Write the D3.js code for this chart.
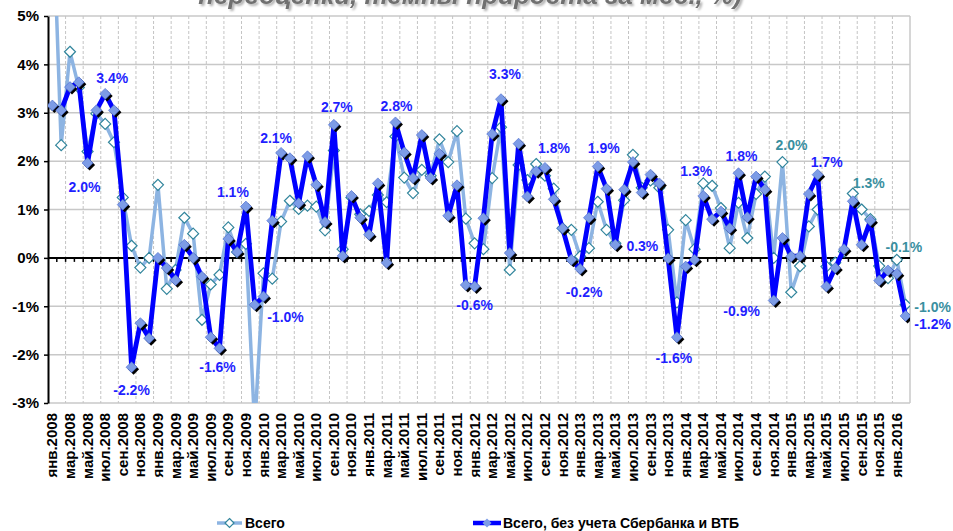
<!DOCTYPE html>
<html>
<head>
<meta charset="utf-8">
<script src="https://cdn.jsdelivr.net/npm/d3@7"></script>
<style>
  body { margin: 0; background: #fff; }
  svg { display: block; font-family: "Liberation Sans", Arial, sans-serif; }
</style>
</head>
<body>
<div id="chart"></div>
<script>
// ---- data ----
const monthNames = ['янв', 'фев', 'мар', 'апр', 'май', 'июн', 'июл', 'авг', 'сен', 'окт', 'ноя', 'дек'];
const years = [2008, 2009, 2010, 2011, 2012, 2013, 2014, 2015, 2016];
const months = [];
years.forEach(y => monthNames.forEach(m => months.push(m + '.' + y)));
months.length = 98; // янв.2008 .. фев.2016

// Всего
const total = [
  7.5, 2.33, 4.26, 3.52, 2.20, 2.98, 2.77, 2.39, 1.25, 0.25, -0.20, 0.00,
  1.51, -0.64, -0.25, 0.83, 0.50, -1.28, -0.55, -0.35, 0.63, 0.12, 0.29, -3.5,
  -0.32, -0.43, 0.75, 1.18, 1.01, 1.08, 1.06, 0.57, 2.22, 0.18, 1.25, 0.90,
  0.97, 1.30, 1.15, 2.51, 1.66, 1.34, 1.82, 1.70, 2.45, 1.98, 2.62, 0.81,
  0.30, 0.18, 1.65, 2.70, -0.25, 1.92, 1.61, 1.94, 1.70, 1.43, 0.61, 0.58,
  0.03, 0.20, 1.16, 0.58, 0.30, 1.19, 2.13, 1.45, 1.60, 1.45, 0.58, -0.92,
  0.78, 0.18, 1.54, 1.49, 1.03, 0.20, 1.14, 0.41, 1.32, 1.68, 0.00, 1.98,
  -0.71, -0.17, 0.65, 1.00, -0.18, -0.10, 0.13, 1.33, 1.00, 0.80, -0.17, -0.42,
  -0.04, -0.97
];

// Всего, без учета Сбербанка и ВТБ
const exSberVtb = [
  3.15, 3.05, 3.53, 3.63, 1.96, 3.05, 3.39, 3.05, 1.10, -2.26, -1.35, -1.66,
  0.00, -0.21, -0.46, 0.27, 0.00, -0.39, -1.64, -1.87, 0.39, 0.12, 1.06, -0.97,
  -0.80, 0.77, 2.17, 2.06, 1.13, 2.10, 1.51, 0.74, 2.75, 0.04, 1.28, 0.83,
  0.48, 1.54, -0.10, 2.80, 2.18, 1.65, 2.54, 1.65, 2.15, 0.87, 1.50, -0.56,
  -0.59, 0.82, 2.56, 3.28, 0.10, 2.36, 1.27, 1.79, 1.86, 1.21, 0.61, -0.04,
  -0.23, 0.83, 1.89, 1.43, 0.27, 1.41, 1.98, 1.35, 1.72, 1.54, -0.01, -1.64,
  -0.18, -0.04, 1.28, 0.80, 0.96, 0.61, 1.75, 0.84, 1.68, 1.41, -0.88, 0.41,
  0.03, 0.04, 1.32, 1.72, -0.59, -0.21, 0.18, 1.17, 0.27, 0.77, -0.47, -0.26,
  -0.33, -1.20
];

const yTicks = [-3, -2, -1, 0, 1, 2, 3, 4, 5];

// data labels: [index, text]
const labelsEx = [
  [6, '3.4%'], [4, '2.0%'], [9, '-2.2%'], [19, '-1.6%'], [22, '1.1%'], [24, '-1.0%'],
  [26, '2.1%'], [32, '2.7%'], [39, '2.8%'], [51, '3.3%'], [48, '-0.6%'], [56, '1.8%'],
  [60, '-0.2%'], [62, '1.9%'], [64, '0.3%'], [71, '-1.6%'], [74, '1.3%'], [78, '1.8%'],
  [82, '-0.9%'], [87, '1.7%'], [97, '-1.2%']
];
const labelsTotal = [[83, '2.0%'], [91, '1.3%'], [96, '-0.1%'], [97, '-1.0%']];

// label offsets from the point (placement only)
const offEx = {
  6: [7, -16], 4: [-3, 24], 9: [0, 23], 19: [-2, 19], 22: [-13, -15], 24: [22, 20],
  26: [-5, -15], 32: [3, -18], 39: [1, -16], 51: [4, -25], 48: [0, 19], 56: [9, -20],
  60: [4, 23], 62: [6, -18], 64: [27, 1], 71: [-3, 21], 74: [-7, -25], 78: [3, -17],
  82: [-32, 11], 87: [9, -13], 97: [27, 8]
};
const offTotal = { 83: [9, -17], 91: [16, -11], 96: [7, -13], 97: [27, 2] };

// ---- chart ----
const width = 953, height = 531;
const margin = { top: 16, right: 43, bottom: 128, left: 48 };

const svg = d3.select('#chart').append('svg')
  .attr('width', width)
  .attr('height', height);

const x = d3.scaleBand()
  .domain(d3.range(months.length))
  .range([margin.left, width - margin.right]);
const y = d3.scaleLinear()
  .domain([-3, 5])
  .range([height - margin.bottom, margin.top]);
const px = i => x(i) + x.bandwidth() / 2;

// title (second line, partly off the top)
const shadow = svg.append('defs').append('filter').attr('id', 'shadow')
  .attr('x', '-5%').attr('y', '-50%').attr('width', '110%').attr('height', '200%');
shadow.append('feDropShadow')
  .attr('dx', 2).attr('dy', 2).attr('stdDeviation', 1.2)
  .attr('flood-color', '#000').attr('flood-opacity', 0.3);

svg.append('text')
  .attr('x', 470).attr('y', 4)
  .attr('text-anchor', 'middle')
  .attr('font-size', 26).attr('font-weight', 'bold').attr('font-style', 'italic')
  .attr('fill', '#6f6f6f')
  .attr('filter', 'url(#shadow)')
  .text('переоценки, темпы прироста за мес., %)');

// gridlines
svg.append('g')
  .selectAll('line')
  .data(yTicks)
  .join('line')
  .attr('x1', margin.left).attr('x2', width - margin.right)
  .attr('y1', d => y(d)).attr('y2', d => y(d))
  .attr('stroke', '#c8c8c8').attr('stroke-width', 1.5);

svg.append('g')
  .selectAll('line')
  .data(d3.range(2, months.length, 2))
  .join('line')
  .attr('x1', d => x(d)).attr('x2', d => x(d))
  .attr('y1', margin.top).attr('y2', height - margin.bottom)
  .attr('stroke', '#c4c4c4').attr('stroke-width', 1)
  .attr('stroke-dasharray', '3,2');

svg.append('line')
  .attr('x1', width - margin.right).attr('x2', width - margin.right)
  .attr('y1', margin.top).attr('y2', height - margin.bottom)
  .attr('stroke', '#c8c8c8').attr('stroke-width', 1.5);

// zero line with month ticks
svg.append('line')
  .attr('x1', margin.left).attr('x2', width - margin.right)
  .attr('y1', y(0)).attr('y2', y(0))
  .attr('stroke', '#000').attr('stroke-width', 2);
svg.append('g')
  .selectAll('line')
  .data(d3.range(1, months.length))
  .join('line')
  .attr('x1', d => x(d)).attr('x2', d => x(d))
  .attr('y1', y(0)).attr('y2', y(0) + 4)
  .attr('stroke', '#000').attr('stroke-width', 1.5);

// y axis
const yAxis = svg.append('g')
  .attr('transform', `translate(${margin.left},0)`)
  .call(d3.axisLeft(y).tickValues(yTicks).tickFormat(d => d + '%').tickSize(4).tickSizeOuter(0));
yAxis.select('.domain').attr('stroke', '#000').attr('stroke-width', 2);
yAxis.selectAll('.tick line').attr('stroke', '#000').attr('stroke-width', 1.5);
yAxis.selectAll('.tick text')
  .attr('font-size', 15).attr('font-weight', 'bold').attr('fill', '#000')
  .attr('font-family', '"Liberation Sans", Arial, sans-serif')
  .attr('x', -9);

// x labels (every other month)
svg.append('g')
  .selectAll('text')
  .data(d3.range(0, months.length, 2))
  .join('text')
  .attr('transform', d => `translate(${px(d) + 5},${height - margin.bottom + 10}) rotate(-90)`)
  .attr('text-anchor', 'end')
  .attr('font-size', 15).attr('font-weight', 'bold').attr('fill', '#000')
  .text(d => months[d]);

// series
svg.append('clipPath').attr('id', 'plotClip')
  .append('rect')
  .attr('x', margin.left).attr('y', margin.top)
  .attr('width', width - margin.left - margin.right)
  .attr('height', height - margin.top - margin.bottom);

const plot = svg.append('g').attr('clip-path', 'url(#plotClip)');
const line = d3.line().x((d, i) => px(i)).y(d => y(d));
const diamond = s => `M0,${-s}L${s},0L0,${s}L${-s},0Z`;

plot.append('path')
  .datum(total)
  .attr('d', line)
  .attr('fill', 'none')
  .attr('stroke', '#8db4e2').attr('stroke-width', 3.5)
  .attr('stroke-linejoin', 'round');

plot.append('g')
  .selectAll('path')
  .data(total)
  .join('path')
  .attr('transform', (d, i) => `translate(${px(i)},${y(d)})`)
  .attr('d', diamond(5.5))
  .attr('fill', '#fff')
  .attr('stroke', '#31859c').attr('stroke-width', 1.2);

plot.append('path')
  .datum(exSberVtb)
  .attr('d', line)
  .attr('fill', 'none')
  .attr('stroke', '#0000ff').attr('stroke-width', 4.8)
  .attr('stroke-linejoin', 'round');

const exMarks = plot.append('g')
  .selectAll('g')
  .data(exSberVtb)
  .join('g')
  .attr('transform', (d, i) => `translate(${px(i)},${y(d)})`);
exMarks.append('path')
  .attr('d', diamond(5.5))
  .attr('transform', 'translate(2,2)')
  .attr('fill', '#000');
exMarks.append('path')
  .attr('d', diamond(5.5))
  .attr('fill', '#7d9ce6')
  .attr('stroke', '#4466cc').attr('stroke-width', 0.6);

// data labels
function drawLabels(list, values, offsets, color) {
  svg.append('g')
    .selectAll('text')
    .data(list)
    .join('text')
    .attr('x', d => px(d[0]) + offsets[d[0]][0])
    .attr('y', d => y(values[d[0]]) + offsets[d[0]][1] + 5)
    .attr('text-anchor', 'middle')
    .attr('font-size', 14).attr('font-weight', 'bold')
    .attr('fill', color)
    .text(d => d[1]);
}
drawLabels(labelsEx, exSberVtb, offEx, '#1f1fff');
drawLabels(labelsTotal, total, offTotal, '#3a8f9f');

// legend
const legend = svg.append('g').attr('transform', 'translate(0,523)');
const lg1 = legend.append('g').attr('transform', 'translate(217,0)');
lg1.append('line').attr('x1', 0).attr('x2', 25).attr('stroke', '#8db4e2').attr('stroke-width', 3.5);
lg1.append('path').attr('transform', 'translate(12.5,0)').attr('d', diamond(4.5))
  .attr('fill', '#fff').attr('stroke', '#31859c').attr('stroke-width', 1.2);
lg1.append('text').attr('x', 28).attr('y', 5)
  .attr('font-size', 14).attr('font-weight', 'bold').text('Всего');

const lg2 = legend.append('g').attr('transform', 'translate(473,0)');
lg2.append('line').attr('x1', 0).attr('x2', 28).attr('stroke', '#0000ff').attr('stroke-width', 4.5);
lg2.append('path').attr('transform', 'translate(14,0)').attr('d', diamond(4.5))
  .attr('fill', '#7d9ce6');
lg2.append('text').attr('x', 30).attr('y', 5)
  .attr('font-size', 14).attr('font-weight', 'bold').text('Всего, без учета Сбербанка и ВТБ');
</script>
</body>
</html>
